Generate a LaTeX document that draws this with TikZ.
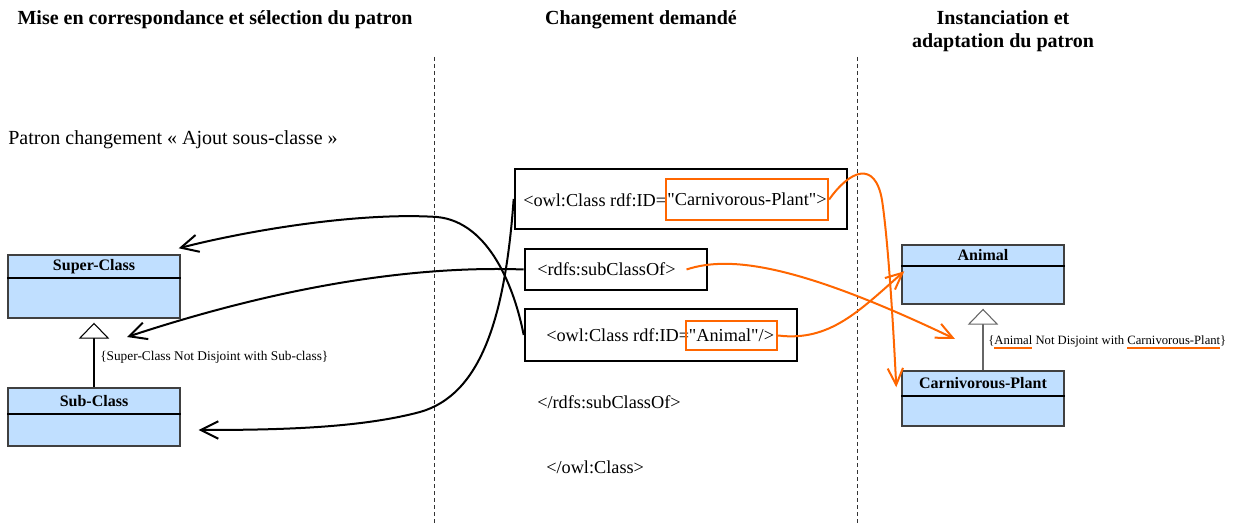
\documentclass[tikz,border=0pt]{standalone}
\usepackage{fontspec}
\setmainfont{Liberation Serif}[Ligatures=TeXOff]
\usetikzlibrary{arrows.meta}
\definecolor{umlblue}{RGB}{192,223,255}
\definecolor{orng}{RGB}{255,102,0}
\newsavebox\ulbox
\newcommand\orul[1]{\sbox\ulbox{#1}\rlap{\textcolor{orng}{\rule[-3.2pt]{\wd\ulbox}{1.4pt}}}\usebox\ulbox}
\tikzset{
 codebox/.style={draw, line width=2pt, inner sep=0pt},
 orbox/.style={draw=orng, line width=1.7pt, inner sep=0pt, font=\fontsize{13.7}{16}\selectfont},
 umlbox/.style={draw=black!75, line width=1.1pt, fill=umlblue, inner sep=0pt},
 umltitle/.style={font=\bfseries\fontsize{12}{14}\selectfont, inner sep=0pt},
 codetext/.style={font=\fontsize{13.7}{16}\selectfont, inner sep=0pt, anchor=west},
 headtext/.style={font=\bfseries\fontsize{15}{17.25}\selectfont, align=center, inner sep=0pt},
 plaintext/.style={font=\fontsize{15}{17}\selectfont, inner sep=0pt, anchor=west},
 constext/.style={inner sep=0pt, anchor=west},
 divline/.style={dash pattern=on 3pt off 2.25pt, line width=0.75pt, black!80},
 blackarr/.style={line width=1.5pt, -{Straight Barb[length=13pt,width=13pt]}},
 orarr/.style={draw=orng, line width=1.5pt, -{Straight Barb[length=12.5pt,width=11.5pt]}},
 gen/.style={line width=0.8pt, -{Triangle[open,fill=white,length=12pt,width=23pt]}}
}
\begin{document}
\begin{tikzpicture}[x=0.75pt,y=-0.75pt]
\useasboundingbox (0,0) rectangle (1234,530);
% headings
\node[headtext] (h1) at (215,20) {Mise en correspondance et sélection du patron};
\node[headtext] (h2) at (641,20) {Changement demandé};
\node[headtext] (h3) at (1003,31.5) {Instanciation et\\adaptation du patron};
\node[plaintext] (pat) at (8,140) {Patron changement « Ajout sous-classe »};
% separators
\draw[divline] (434,57) -- (434,525);
\draw[divline] (857,57) -- (857,525);
% left UML
\node[umlbox, minimum width=129pt, minimum height=47.25pt] (sup) at (94,286.5) {};
\draw[line width=1.3pt] ([yshift=-18pt]sup.north west) -- ([yshift=-18pt]sup.north east);
\node[umltitle] (supt) at ([yshift=-9pt]sup.north) {Super-Class};
\node[umlbox, minimum width=129pt, minimum height=43.5pt] (sub) at (94,417) {};
\draw[line width=1.3pt] ([yshift=-20.25pt]sub.north west) -- ([yshift=-20.25pt]sub.north east);
\node[umltitle] (subt) at ([yshift=-10.1pt]sub.north) {Sub-Class};
\draw[gen] (sub.north) -- ([yshift=-3pt]sup.south);
\node[constext, font=\fontsize{10}{12}\selectfont] (lcons) at (100,357) {\{Super-Class Not Disjoint with Sub-class\}};
\coordinate (gentip) at (127,337);
% middle code
\node[codebox, minimum width=249pt, minimum height=45pt] (cpbox) at (681,199) {};
\node[codetext] (cpt) at (523,200) {<owl:Class rdf:ID=};
\node[orbox, minimum width=121.5pt, minimum height=30.75pt] (cpo) at (747,199.5) {"Carnivorous-Plant">};
\node[codebox, minimum width=136.5pt, minimum height=30.75pt] (scbox) at (616,269.5) {};
\node[codetext] (sct) at (537,269.5) {<rdfs:subClassOf>};
\node[codebox, minimum width=204pt, minimum height=39pt] (anbox) at (661,335) {};
\node[codetext] (ant) at (546,335.5) {<owl:Class rdf:ID=};
\node[orbox, minimum width=68.25pt, minimum height=21.75pt] (ano) at (731.5,335.5) {"Animal"/>};
\node[codetext] (csc) at (537,402) {</rdfs:subClassOf>};
\node[codetext] (coc) at (546,467) {</owl:Class>};
% right UML
\node[umlbox, minimum width=121.5pt, minimum height=44.25pt] (anu) at (983,274.5) {};
\draw[line width=1.3pt] ([yshift=-16.5pt]anu.north west) -- ([yshift=-16.5pt]anu.north east);
\node[umltitle] (anut) at ([yshift=-8.25pt]anu.north) {Animal};
\node[umlbox, minimum width=121.5pt, minimum height=41.25pt] (cpu) at (983,398.5) {};
\draw[line width=1.3pt] ([yshift=-19.5pt]cpu.north west) -- ([yshift=-19.5pt]cpu.north east);
\node[umltitle] (cput) at ([yshift=-9.75pt]cpu.north) {Carnivorous-Plant};
\draw[gen, draw=black!60] (cpu.north) -- ([yshift=-3pt]anu.south);
\node[constext, font=\fontsize{9.5}{11}\selectfont] (rcons) at (988,342) {\{\orul{Animal} Not Disjoint with \orul{Carnivorous-Plant}\}};
\coordinate (ctip) at (955,339);
% black arrows
\draw[blackarr] (anbox.west) .. controls (515,290) and (490,222) .. (437,217) .. controls (360,212) and (250,230) .. ([shift={(-2,-6)}]sup.north east);
\draw[blackarr] (scbox.west) .. controls (430,266) and (300,280) .. (gentip);
\draw[blackarr] (cpbox.west) .. controls (505,320) and (480,395) .. (420,412) .. controls (360,428) and (280,430) .. ([shift={(18,13)}]sub.east);
% orange arrows
\draw[orarr] (cpo.east) .. controls (850,170) and (875,160) .. (882,200) .. controls (888,240) and (893,320) .. ([shift={(-5,17)}]cpu.north west);
\draw[orarr] ([xshift=8pt]sct.east) .. controls (730,255) and (800,265) .. (ctip);
\draw[orarr] (ano.east) .. controls (830,342) and (860,310) .. ([shift={(3,27)}]anu.north west);
\end{tikzpicture}
\end{document}
